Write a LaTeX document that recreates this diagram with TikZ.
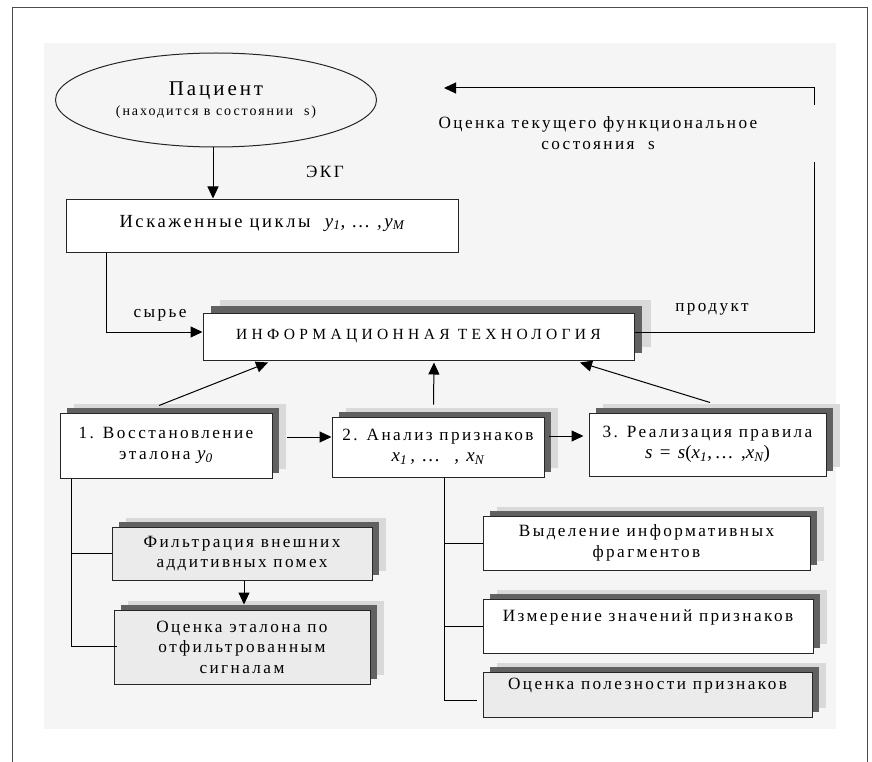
\documentclass[tikz,border=0pt]{standalone}
\usepackage{fontspec}
\setmainfont{Liberation Serif}[LetterSpace=14]
\usetikzlibrary{positioning, arrows.meta, shapes.geometric, shadows}

\newcommand{\isub}[1]{\textsubscript{\itshape #1}}
\newcommand{\varfont}{\fontsize{19}{20}\selectfont\itshape}

\begin{document}
\begin{tikzpicture}[
    x=1pt, y=-1pt,
    font=\fontsize{17.2}{20.5}\selectfont,
    >={Triangle[length=12pt,width=11pt]},
    box/.style={
        rectangle, draw=black!85, line width=1pt,
        fill=white, inner sep=0pt, align=center
    },
    shbox/.style={
        box,
        general shadow={fill=black!15, shadow xshift=14pt, shadow yshift=9pt},
        general shadow={fill=black!62, shadow xshift=7pt, shadow yshift=5pt}
    },
    graybox/.style={shbox, fill=black!8},
    mainbox/.style={
        box,
        general shadow={fill=black!15, shadow xshift=17pt, shadow yshift=13pt},
        general shadow={fill=black!62, shadow xshift=8pt, shadow yshift=7pt}
    },
    lbl/.style={align=center, inner sep=0pt},
    arrow/.style={->, line width=1pt},
    link/.style={line width=1pt},
]
\useasboundingbox (0,0) rectangle (872,762);

% ---------- Frame and panel ----------
\draw[line width=1pt, black!70] (12,762) |- (867,8) -- (867,762);
\fill[black!4] (44,43) rectangle (836,729);

% ---------- Patient ----------
\node[ellipse, draw=black!85, line width=1pt, inner sep=0pt,
      minimum width=321pt, minimum height=94pt, align=center] (patient) at (216,100)
    {{\fontsize{21}{22}\selectfont Пациент}\\%
     {\fontsize{14}{18}\selectfont (находится в состоянии\ \ s)}};
\node[lbl] (ekg) at (325,172) {ЭКГ};

% ---------- Distorted cycles ----------
\node[box, minimum width=392pt, minimum height=53pt, text depth=9pt] (cycles) at (262,225.5)
    {\fontsize{18.5}{20}\selectfont Искаженные циклы\ \ {\varfont y\isub{1}, … ,y\isub{M}}};
\node[lbl] (raw) at (160,315) {сырье};

% ---------- Information technology ----------
\node[mainbox, minimum width=431pt, minimum height=47pt] (main) at (418.5,336.5)
    {\fontsize{15.5}{18}\selectfont\addfontfeatures{LetterSpace=28}ИНФОРМАЦИОННАЯ ТЕХНОЛОГИЯ};
\node[lbl] (product) at (712,309) {продукт};
\node[lbl] (estimate) at (598,133) {Оценка текущего функциональное\\состояния\ \ s};

% ---------- Three stages ----------
\node[shbox, minimum width=212pt, minimum height=65pt] (box1) at (166,445.5)
    {1. Восстановление\\эталона {\varfont y\isub{0}}};
\node[shbox, minimum width=212pt, minimum height=60pt] (box2) at (438,447)
    {2. Анализ признаков\\{\varfont x\isub{1}\,, … \ , x\isub{N}}};
\node[shbox, minimum width=237pt, minimum height=63pt] (box3) at (707.5,444.5)
    {3. Реализация правила\\{\varfont s \upshape= \itshape s\upshape(\itshape x\isub{1}\upshape,… ,\itshape x\isub{N}\upshape)}};

% ---------- Sub-steps of stage 1 ----------
\node[graybox, minimum width=260pt, minimum height=53pt] (filter) at (242,553.5)
    {Фильтрация внешних\\аддитивных помех};
\node[graybox, minimum width=256pt, minimum height=74pt, below=29pt of filter] (estim)
    {Оценка эталона по\\отфильтрованным\\сигналам};

% ---------- Sub-steps of stage 2 ----------
\node[shbox, minimum width=327pt, minimum height=54pt] (frag) at (646.5,543)
    {Выделение информативных\\фрагментов};
\node[shbox, minimum width=330pt, minimum height=54pt] (meas) at (648,626)
    {Измерение значений признаков\\ \mbox{}};
\node[graybox, minimum width=329pt, minimum height=45pt] (useful) at (647.5,694.5)
    {Оценка полезности признаков\\ \mbox{}};

% ---------- Feedback coordinates ----------
\coordinate (fbkup) at (814,162);
\coordinate (fbktop) at (814,105);
\coordinate (fbkend) at (444,88);
\coordinate (ltrunk) at ([xshift=12pt]box1.south west);
\coordinate (rtrunk) at ([xshift=6pt]box2.south);

% ---------- Arrows ----------
\draw[arrow] ([xshift=-3pt]patient.south) -- ([xshift=-3pt]patient.south |- cycles.north);
\draw[arrow] ([xshift=-156pt]cycles.south) |- ([yshift=4.5pt]main.west);
\draw[link] ([yshift=4.5pt]main.east) -| (fbkup);
\draw[arrow] (fbktop) |- (fbkend);

\draw[arrow] ([xshift=-7pt,yshift=7pt]box1.north) -- ([xshift=-150.5pt,yshift=-2pt]main.south);
\draw[arrow] ([xshift=-4.5pt,yshift=12pt]box2.north) -- ([xshift=15.5pt,yshift=-2pt]main.south);
\draw[arrow] ([xshift=2.5pt,yshift=10pt]box3.north) -- ([xshift=161.5pt,yshift=-2pt]main.south);

\draw[arrow] ([xshift=14pt,yshift=8.5pt]box1.east) -- ([yshift=10pt]box2.west);
\draw[arrow, shorten >=5pt] ([xshift=4pt,yshift=11pt]box2.east) -- ([yshift=8.5pt]box3.west);

\draw[link] (ltrunk) |- ([xshift=3pt,yshift=1pt]estim.west);
\draw[link] (ltrunk |- filter.west) -- (filter.west);
\draw[arrow] ([xshift=2pt]filter.south) -- ([xshift=2pt,yshift=5pt]estim.north);

\draw[link] (rtrunk) |- ([xshift=-6pt,yshift=-5.5pt]useful.west);
\draw[link] (rtrunk |- frag.west) -- (frag.west);
\draw[link] (rtrunk |- meas.west) -- (meas.west);

\end{tikzpicture}
\end{document}
